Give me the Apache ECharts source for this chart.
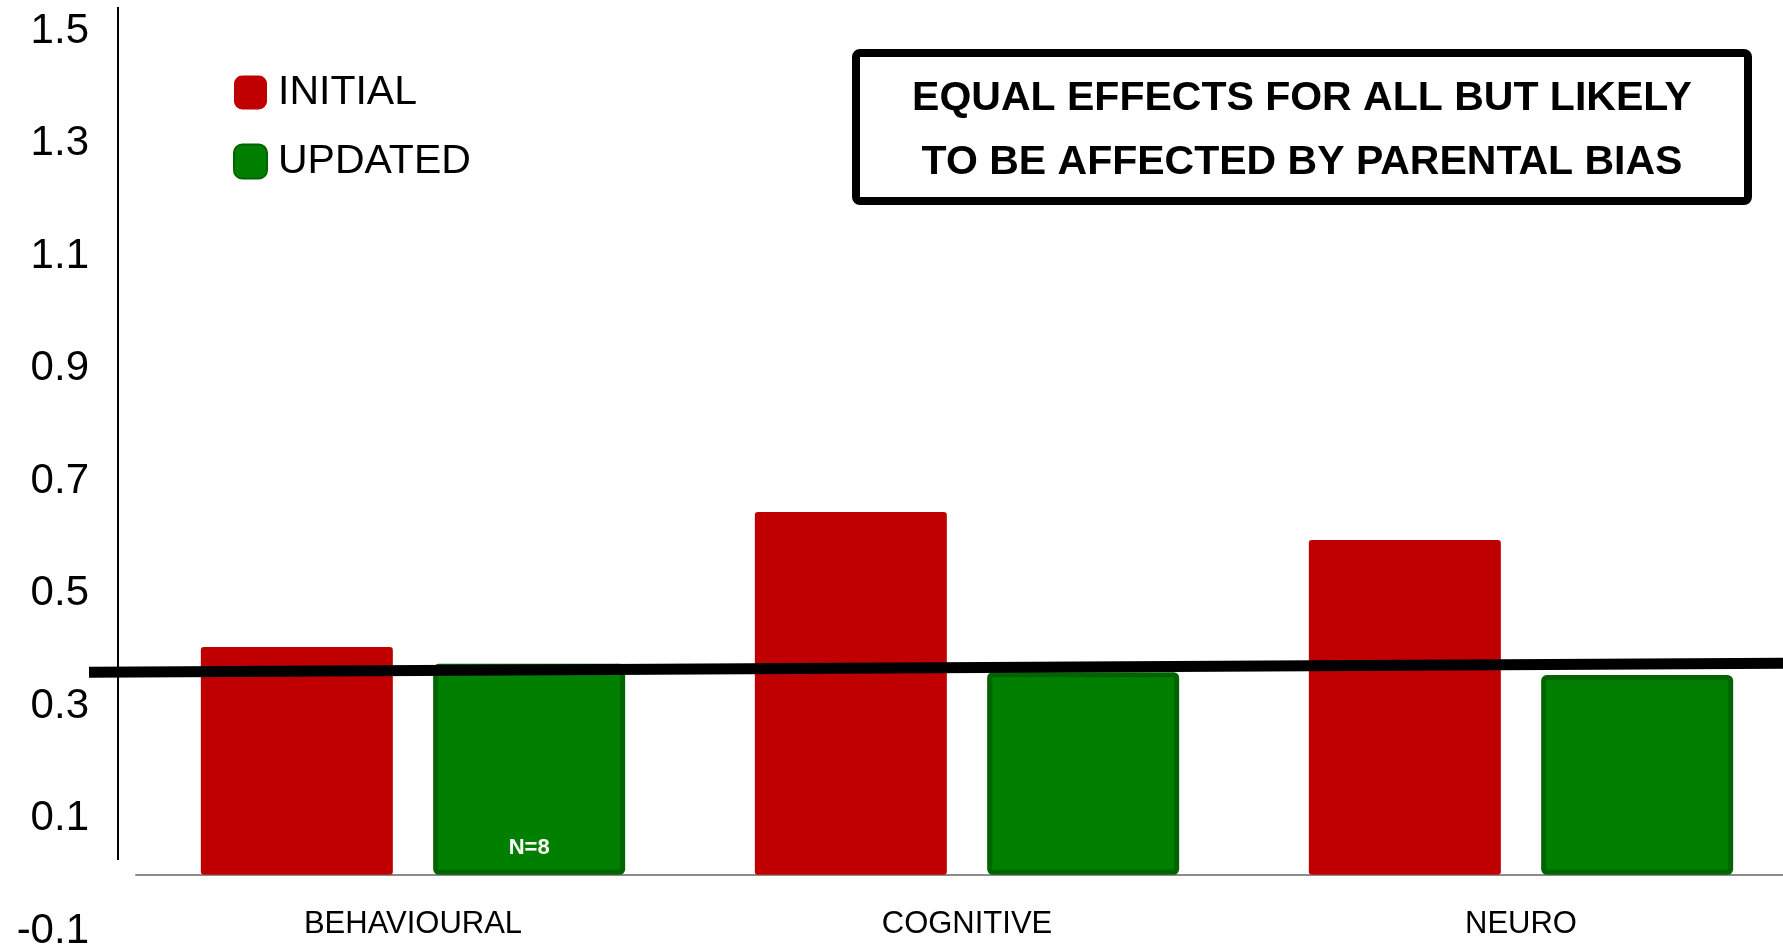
<!DOCTYPE html>
<html>
<head>
<meta charset="utf-8">
<style>
  html, body { margin: 0; padding: 0; background: #fff; }
  #chart { width: 1783px; height: 949px; }
</style>
<script src="https://cdn.jsdelivr.net/npm/echarts@6/dist/echarts.min.js"></script>
</head>
<body>
<div id="chart"></div>
<script>
// Effect sizes by outcome domain, initial vs updated estimates
const categories = ['BEHAVIOURAL', 'COGNITIVE', 'NEURO'];
const seriesNames = ['INITIAL', 'UPDATED'];
const initialValues = [0.405, 0.645, 0.595];
const updatedValues = [0.375, 0.36, 0.355];
// Pooled-effect reference line, from the left edge (0) to the right edge (1)
const referenceLine = [[0, 0.36], [1, 0.376]];
const sampleNote = 'N=8';
const yMin = -0.1, yMax = 1.5, yStep = 0.2;
const boxText = ['EQUAL EFFECTS FOR ALL BUT LIKELY', 'TO BE AFFECTED BY PARENTAL BIAS'];

const FONT = '"Liberation Sans", Arial, sans-serif';
const GRID_TOP = 31, GRID_HEIGHT = 900;
// distance from the bottom of the plot up to the zero line
const zeroOffset = GRID_HEIGHT * (0 - yMin) / (yMax - yMin);

const chart = echarts.init(document.getElementById('chart'), null, { renderer: 'canvas' });

chart.setOption({
  backgroundColor: '#ffffff',
  animation: false,
  legend: {
    orient: 'vertical',
    left: 233,
    top: 72,
    padding: 0,
    itemWidth: 33,
    itemHeight: 34,
    itemGap: 28,
    icon: 'roundRect',
    data: seriesNames,
    textStyle: { fontFamily: FONT, fontSize: 41, color: '#000', padding: [0, 0, 0, 6] }
  },
  grid: [
    { left: 136, right: -15, top: GRID_TOP, height: GRID_HEIGHT, outerBoundsMode: 'none', containLabel: false },
    { left: 89, right: 0, top: GRID_TOP, height: GRID_HEIGHT, outerBoundsMode: 'none', containLabel: false }
  ],
  xAxis: [
    {
      type: 'category',
      gridIndex: 0,
      position: 'bottom',
      offset: -zeroOffset,
      data: categories,
      axisLine: { show: true, onZero: false, lineStyle: { color: '#8c8c8c', width: 2 } },
      axisTick: { show: false },
      axisLabel: {
        show: true, interval: 0, hideOverlap: false,
        fontFamily: FONT, fontSize: 31, color: '#000', margin: 34
      }
    },
    { type: 'value', gridIndex: 1, min: 0, max: 1, show: false }
  ],
  yAxis: [
    {
      type: 'value',
      gridIndex: 0,
      min: yMin,
      max: yMax,
      interval: yStep,
      axisLine: { show: false },
      axisTick: { show: false },
      splitLine: { show: false },
      axisLabel: {
        fontFamily: FONT, fontSize: 42, color: '#000', margin: 47,
        formatter: v => v.toFixed(1)
      }
    },
    { type: 'value', gridIndex: 1, min: yMin, max: yMax, show: false }
  ],
  series: [
    {
      name: seriesNames[0],
      type: 'bar',
      xAxisIndex: 0, yAxisIndex: 0,
      data: initialValues,
      barWidth: 192,
      barGap: '21%',
      itemStyle: { color: '#c00000', borderRadius: 3 }
    },
    {
      name: seriesNames[1],
      type: 'bar',
      xAxisIndex: 0, yAxisIndex: 0,
      data: updatedValues.map((v, i) => i === 0
        ? { value: v, label: { show: true, formatter: sampleNote } }
        : v),
      barWidth: 192,
      barGap: '21%',
      itemStyle: { color: '#007f00', borderColor: '#006400', borderWidth: 5, borderRadius: 3 },
      label: {
        show: false,
        position: 'insideBottom',
        distance: 16,
        color: '#fff',
        fontFamily: FONT,
        fontWeight: 'bold',
        fontSize: 22
      }
    },
    {
      name: 'reference',
      type: 'line',
      xAxisIndex: 1, yAxisIndex: 1,
      data: referenceLine,
      symbol: 'none',
      clip: false,
      z: 10,
      lineStyle: { color: '#000', width: 11, cap: 'butt' }
    }
  ],
  graphic: [
    {
      // vertical axis rule
      type: 'line',
      shape: { x1: 118, y1: 7, x2: 118, y2: 860 },
      style: { stroke: '#000', lineWidth: 2 },
      z: 5
    },
    {
      type: 'rect',
      shape: { x: 856, y: 53, width: 892, height: 148, r: 4 },
      style: { fill: '#fff', stroke: '#000', lineWidth: 8 },
      z: 20
    },
    {
      type: 'text',
      x: 1302,
      y: 131,
      z: 21,
      style: {
        text: boxText.join('\n'),
        align: 'center',
        verticalAlign: 'middle',
        fontFamily: FONT,
        fontWeight: 'bold',
        fontSize: 41,
        lineHeight: 64,
        fill: '#000'
      }
    }
  ]
});
</script>
</body>
</html>
